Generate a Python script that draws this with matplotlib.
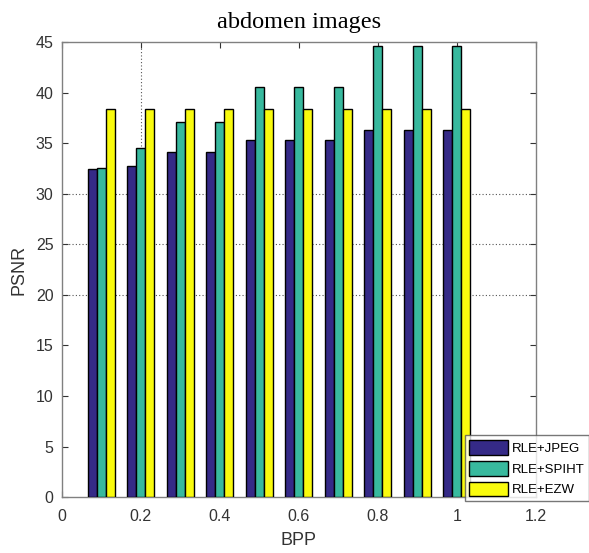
import matplotlib
matplotlib.use("Agg")
import matplotlib.pyplot as plt
import numpy as np

bpp = [0.1, 0.2, 0.3, 0.4, 0.5, 0.6, 0.7, 0.8, 0.9, 1.0]
rle_jpeg = [32.4, 32.7, 34.1, 34.1, 35.3, 35.3, 35.3, 36.3, 36.3, 36.3]
rle_spiht = [32.5, 34.5, 37.1, 37.1, 40.6, 40.6, 40.6, 44.6, 44.6, 44.6]
rle_ezw = [38.4, 38.4, 38.4, 38.4, 38.4, 38.4, 38.4, 38.4, 38.4, 38.4]
series_names = ["RLE+JPEG", "RLE+SPIHT", "RLE+EZW"]
colors = ["#352a87", "#38b99e", "#f9fb0e"]
xticks = [0, 0.2, 0.4, 0.6, 0.8, 1.0, 1.2]
xtick_labels = ["0", "0.2", "0.4", "0.6", "0.8", "1", "1.2"]
yticks = [0, 5, 10, 15, 20, 25, 30, 35, 40, 45]

plt.rcParams['font.family'] = ['Liberation Sans', 'DejaVu Sans']

fig = plt.figure(figsize=(5.89, 5.53), dpi=100)
ax = fig.add_axes([0.105, 0.101, 0.805, 0.823])

x = np.array(bpp)
w = 0.0228
for i, (vals, name, c) in enumerate(zip([rle_jpeg, rle_spiht, rle_ezw], series_names, colors)):
    ax.bar(x + (i - 1) * w, vals, width=w, color=c, edgecolor="black",
           linewidth=1.0, label=name, zorder=3)

# partial dotted grid as rendered in reference
for yv in [20, 25, 30]:
    ax.axhline(yv, color="#555555", linestyle=(0, (1, 2)), linewidth=0.8, zorder=1)
ax.axvline(0.2, ymin=34.7 / 45, ymax=1, color="#555555", linestyle=(0, (1, 2)), linewidth=0.8, zorder=1)

ax.set_xlim(0, 1.2)
ax.set_ylim(0, 45)
ax.set_xticks(xticks)
ax.set_xticklabels(xtick_labels)
ax.set_yticks(yticks)
ax.tick_params(direction="in", top=True, right=True, labelsize=11.5, colors="#333333",
               length=4)
ax.tick_params(axis="x", pad=8.5)
ax.tick_params(axis="y", pad=6)
for s in ax.spines.values():
    s.set_color("#808080")
    s.set_linewidth(1.0)

ax.set_xlabel("BPP", fontsize=13, color="#333333", labelpad=6)
ax.set_ylabel("PSNR", fontsize=13, color="#333333", labelpad=6)
fig.text(0.508, 0.96, "abdomen images", ha="center", va="center",
         fontsize=17.5, family="Liberation Serif")

leg = ax.legend(loc="lower right", bbox_to_anchor=(1.0, 0.094), bbox_transform=fig.transFigure,
                fontsize=9.5, frameon=True, fancybox=False, edgecolor="#555555",
                handlelength=2.9, handleheight=1.35, handletextpad=0.3,
                borderpad=0.35, labelspacing=0.45, borderaxespad=0)
leg.get_frame().set_linewidth(1.0)

fig.savefig("out.png", dpi=100)
